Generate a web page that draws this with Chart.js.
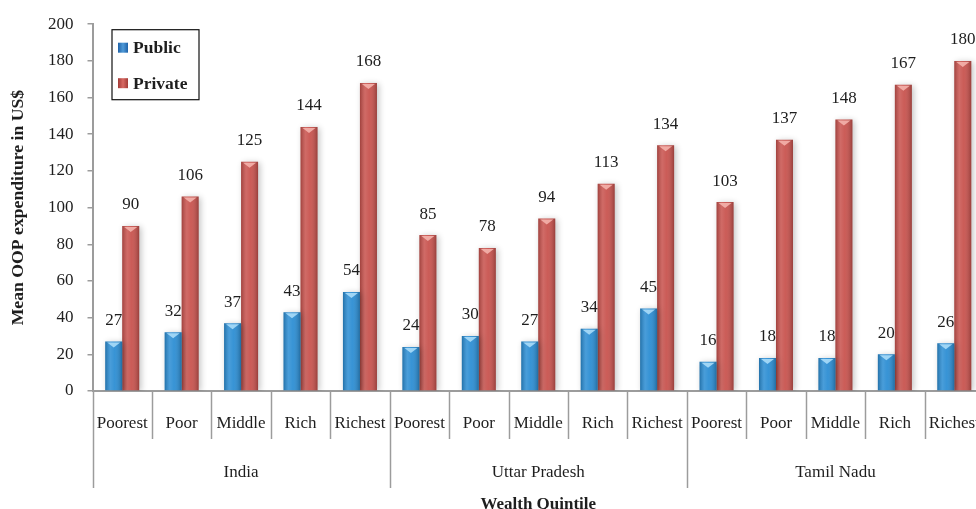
<!DOCTYPE html>
<html>
<head>
<meta charset="utf-8">
<script src="https://cdn.jsdelivr.net/npm/chart.js@4/dist/chart.umd.min.js"></script>
<style>
  html, body { margin: 0; padding: 0; background: #fff; overflow: hidden; width: 976px; height: 509px; }
  canvas { display: block; }
</style>
</head>
<body>
<canvas id="c" width="990" height="515"></canvas>
<script>
// Mean out-of-pocket expenditure (US$) by wealth quintile, public vs private care
const regions = ['India', 'Uttar Pradesh', 'Tamil Nadu'];
const quintiles = ['Poorest', 'Poor', 'Middle', 'Rich', 'Richest'];

const publicIndia = [27, 32, 37, 43, 54];
const publicUttarPradesh = [24, 30, 27, 34, 45];
const publicTamilNadu = [16, 18, 18, 20, 26];

const privateIndia = [90, 106, 125, 144, 168];
const privateUttarPradesh = [85, 78, 94, 113, 134];
const privateTamilNadu = [103, 137, 148, 167, 180];

const yMin = 0;
const yMax = 200;
const yStep = 20;

const categories = regions.flatMap(() => quintiles);
const publicValues = [...publicIndia, ...publicUttarPradesh, ...publicTamilNadu];
const privateValues = [...privateIndia, ...privateUttarPradesh, ...privateTamilNadu];

const SERIF = "'Liberation Serif', 'Times New Roman', serif";
const TEXT = '#1e1e1e';
const AXIS = '#9c9c9c';
const BLUE = '#2b8dd3';
const RED = '#c8524d';
const CAP = ['rgba(170,220,248,0.9)', 'rgba(244,178,172,0.9)'];

// Soft drop shadow under bars, cylinder-like shading and value labels on top
const barDecor = {
  id: 'barDecor',
  beforeDatasetsDraw(chart) {
    const ctx = chart.ctx;
    ctx.save();
    ctx.shadowColor = 'rgba(0,0,0,0.24)';
    ctx.shadowBlur = 6;
    ctx.shadowOffsetX = 2;
    ctx.shadowOffsetY = 1;
  },
  afterDatasetsDraw(chart) {
    const ctx = chart.ctx;
    ctx.restore();
    ctx.save();
    chart.data.datasets.forEach((ds, di) => {
      const meta = chart.getDatasetMeta(di);
      meta.data.forEach((bar, i) => {
        const { x, y, base, width } = bar.getProps(['x', 'y', 'base', 'width'], true);
        const left = x - width / 2;
        const g = ctx.createLinearGradient(left, 0, left + width, 0);
        g.addColorStop(0, 'rgba(0,0,0,0.20)');
        g.addColorStop(0.3, 'rgba(255,255,255,0.14)');
        g.addColorStop(0.55, 'rgba(255,255,255,0.06)');
        g.addColorStop(1, 'rgba(0,0,0,0.24)');
        ctx.fillStyle = g;
        ctx.fillRect(left, y, width, base - y);
        // light cap at the top of each bar
        ctx.fillStyle = CAP[di];
        ctx.beginPath();
        ctx.moveTo(left + 2, y + 1);
        ctx.lineTo(left + width - 2, y + 1);
        ctx.lineTo(x, y + 6);
        ctx.closePath();
        ctx.fill();
        // value label
        ctx.fillStyle = TEXT;
        ctx.font = '17px ' + SERIF;
        ctx.textAlign = 'center';
        ctx.textBaseline = 'middle';
        ctx.fillText(String(ds.data[i]), x, y - 21);
      });
    });
    ctx.restore();
  }
};

// Category separators, region labels and the boxed legend
const axisDecor = {
  id: 'axisDecor',
  afterDraw(chart) {
    const ctx = chart.ctx;
    const xs = chart.scales.x;
    const area = chart.chartArea;
    const half = (xs.getPixelForValue(1) - xs.getPixelForValue(0)) / 2;
    ctx.save();
    ctx.strokeStyle = AXIS;
    ctx.lineWidth = 1.5;
    for (let i = 0; i <= categories.length; i++) {
      const bx = Math.round(xs.getPixelForValue(i) - half) + 0.5;
      const long = i % quintiles.length === 0;
      ctx.beginPath();
      ctx.moveTo(bx, xs.top);
      ctx.lineTo(bx, xs.top + (long ? 97 : 48));
      ctx.stroke();
    }
    ctx.fillStyle = TEXT;
    ctx.font = '17px ' + SERIF;
    ctx.textAlign = 'center';
    ctx.textBaseline = 'middle';
    regions.forEach((r, g) => {
      const cx = xs.getPixelForValue(g * quintiles.length + 2);
      ctx.fillText(r, cx, xs.top + 82);
    });

    // legend
    const lx = area.left + 19, ly = area.top + 5, lw = 87, lh = 70;
    ctx.strokeStyle = '#111';
    ctx.lineWidth = 1.2;
    ctx.strokeRect(lx + 0.5, ly + 0.5, lw, lh);
    ctx.font = 'bold 17.5px ' + SERIF;
    ctx.textAlign = 'left';
    chart.data.datasets.forEach((ds, di) => {
      const cy = ly + 18.5 + di * 35.5;
      const mx = lx + 6.5, m = 10;
      const g = ctx.createLinearGradient(mx, 0, mx + m, 0);
      g.addColorStop(0, di === 0 ? '#1f62a8' : '#a23a36');
      g.addColorStop(0.5, di === 0 ? '#4f9ad8' : '#d86a64');
      g.addColorStop(1, di === 0 ? '#1f62a8' : '#a23a36');
      ctx.fillStyle = g;
      ctx.fillRect(mx, cy - m / 2, m, m);
      ctx.fillStyle = TEXT;
      ctx.fillText(ds.label, lx + 21.5, cy + 1);
    });
    ctx.restore();
  }
};

new Chart(document.getElementById('c'), {
  type: 'bar',
  data: {
    labels: categories,
    datasets: [
      { label: 'Public', data: publicValues, backgroundColor: BLUE, borderWidth: 0 },
      { label: 'Private', data: privateValues, backgroundColor: RED, borderWidth: 0 }
    ]
  },
  options: {
    responsive: false,
    animation: false,
    devicePixelRatio: 1,
    layout: { padding: { top: 21.5, right: 6, left: 0, bottom: 0 } },
    datasets: { bar: { categoryPercentage: 0.572, barPercentage: 1 } },
    plugins: { legend: { display: false }, tooltip: { enabled: false } },
    scales: {
      x: {
        grid: { display: true, drawOnChartArea: false, drawTicks: true, tickLength: 22, color: 'rgba(0,0,0,0)' },
        border: { display: true, color: AXIS, width: 2 },
        ticks: { font: { family: SERIF, size: 17 }, color: TEXT, padding: 0, maxRotation: 0, autoSkip: false },
        title: {
          display: true, text: 'Wealth Quintile', color: TEXT,
          font: { family: SERIF, size: 17, weight: 'bold' }, padding: { top: 0, bottom: 0 }
        },
        afterFit(s) { s.height = 124; s.paddingLeft = 0; s.paddingRight = 0; }
      },
      y: {
        min: yMin, max: yMax,
        ticks: { stepSize: yStep, font: { family: SERIF, size: 17 }, color: TEXT, padding: 14 },
        grid: { drawOnChartArea: false, drawTicks: true, tickLength: 5, color: AXIS, lineWidth: 1.5 },
        border: { display: true, color: AXIS, width: 2 },
        title: {
          display: true, text: 'Mean OOP expenditure in US$', color: TEXT,
          font: { family: SERIF, size: 17.7, weight: 'bold' }, padding: { top: 7.5, bottom: 0 }
        },
        afterFit(s) { s.width = 92.5; }
      }
    }
  },
  plugins: [barDecor, axisDecor]
});
</script>
</body>
</html>
